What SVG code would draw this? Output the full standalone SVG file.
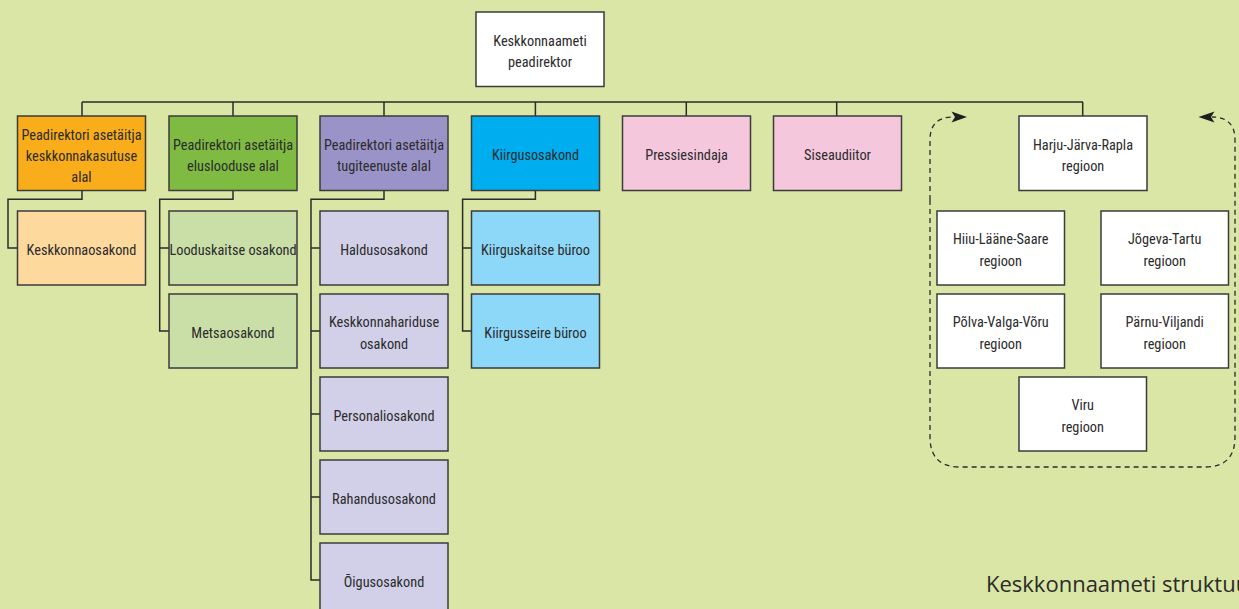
<svg xmlns="http://www.w3.org/2000/svg" width="1239" height="609" viewBox="0 0 1239 609">
<defs>
<style>
.b{stroke:#3b3b3b;stroke-width:1.5}
.t{font-family:"Liberation Sans Narrow","Roboto Condensed","DejaVu Sans Condensed","Liberation Sans",sans-serif;font-stretch:condensed;font-size:14.3px;fill:#2b2b2b;text-anchor:middle}
.c{fill:none;stroke:#2b2b2b;stroke-width:1.5}
.d{fill:none;stroke:#2b2b2b;stroke-width:1.3;stroke-dasharray:5 4}
.ah{fill:#1e1e1e;stroke:none}
.w{fill:#ffffff}.o1{fill:#f9ad1b}.o2{fill:#fed99d}.g1{fill:#7fba42}.g2{fill:#cadfa8}.p1{fill:#9a93c7}.p2{fill:#d2d0e8}.c1{fill:#00aeef}.c2{fill:#8dd8f8}.k{fill:#f4c7dc}
</style>
</defs>
<rect width="1239" height="609" fill="#dae6a5"/>
<g id="connectors">
<path class="c" d="M82,102 H1083 M82,102 V116 M233,102 V116 M384,102 V116 M535.4,102 V116 M686.3,102 V116 M836.7,102 V116 M1082.7,102 V116"/>
<path class="c" d="M82,190.5 V199.3 H8 V248 H17.5"/>
<path class="c" d="M233,190.5 V199.3 H159.7 V331 H169 M159.7,248 H169"/>
<path class="c" d="M384,190.5 V199.3 H311 V580 H320 M311,248 H320 M311,331 H320 M311,414 H320 M311,497 H320"/>
<path class="c" d="M535.4,190.5 V199.3 H462.6 V331 H471.5 M462.6,248 H471.5"/>
<path class="d" d="M930,200 V140 Q930,117 953,117"/>
<polygon class="ah" points="951.5,111.5 967,117 951.5,122.5 955,117"/>
<path class="d" d="M930,200 V437 Q930,467 960,467 H1205 Q1235,467 1235,437 V140 Q1235,117 1212,117"/>
<polygon class="ah" points="1214.5,111.5 1198.5,117 1214.5,122.5 1211,117"/>
</g>
<g id="n-top"><rect class="b w" x="476" y="12" width="128" height="74.5"/><text class="t" x="540" y="45.5">Keskkonnaameti</text><text class="t" x="540" y="67">peadirektor</text></g>
<g id="n-o1"><rect class="b o1" x="17.5" y="116" width="128" height="74.5"/><text class="t" x="81.5" y="139.5">Peadirektori asetäitja</text><text class="t" x="81.5" y="160.8">keskkonnakasutuse</text><text class="t" x="81.5" y="182">alal</text></g>
<g id="n-g1"><rect class="b g1" x="169" y="116" width="128" height="74.5"/><text class="t" x="233" y="150">Peadirektori asetäitja</text><text class="t" x="233" y="171">elusloodusе alal</text></g>
<g id="n-p1"><rect class="b p1" x="320" y="116" width="128" height="74.5"/><text class="t" x="384" y="150">Peadirektori asetäitja</text><text class="t" x="384" y="171">tugiteenuste alal</text></g>
<g id="n-c1"><rect class="b c1" x="471.5" y="116" width="128" height="74.5"/><text class="t" x="535.5" y="160">Kiirgusosakond</text></g>
<g id="n-press"><rect class="b k" x="622.5" y="116" width="128" height="74.5"/><text class="t" x="686.5" y="160">Pressiesindaja</text></g>
<g id="n-sise"><rect class="b k" x="773.5" y="116" width="128" height="74.5"/><text class="t" x="837.5" y="160">Siseaudiitor</text></g>
<g id="n-harju"><rect class="b w" x="1019" y="116" width="128" height="74.5"/><text class="t" x="1083" y="150">Harju-Järva-Rapla</text><text class="t" x="1083" y="171">regioon</text></g>
<g id="n-kesk"><rect class="b o2" x="17.5" y="211" width="128" height="74"/><text class="t" x="81.5" y="255">Keskkonnaosakond</text></g>
<g id="n-lood"><rect class="b g2" x="169" y="211" width="128" height="74"/><text class="t" x="233" y="255">Looduskaitse osakond</text></g>
<g id="n-mets"><rect class="b g2" x="169" y="294" width="128" height="74"/><text class="t" x="233" y="338">Metsaosakond</text></g>
<g id="n-hald"><rect class="b p2" x="320" y="211" width="128" height="74"/><text class="t" x="384" y="255">Haldusosakond</text></g>
<g id="n-kh"><rect class="b p2" x="320" y="294" width="128" height="74"/><text class="t" x="384" y="327">Keskkonnahariduse</text><text class="t" x="384" y="348.5">osakond</text></g>
<g id="n-pers"><rect class="b p2" x="320" y="377" width="128" height="74"/><text class="t" x="384" y="421">Personaliosakond</text></g>
<g id="n-rah"><rect class="b p2" x="320" y="460" width="128" height="74"/><text class="t" x="384" y="504">Rahandusosakond</text></g>
<g id="n-oig"><rect class="b p2" x="320" y="543" width="128" height="74"/><text class="t" x="384" y="587">Õigusosakond</text></g>
<g id="n-kk"><rect class="b c2" x="471.5" y="211" width="128" height="74"/><text class="t" x="535.5" y="255">Kiirguskaitse büroo</text></g>
<g id="n-ks"><rect class="b c2" x="471.5" y="294" width="128" height="74"/><text class="t" x="535.5" y="338">Kiirgusseire büroo</text></g>
<g id="n-hiiu"><rect class="b w" x="937" y="211" width="127.5" height="74"/><text class="t" x="1000.7" y="244">Hiiu-Lääne-Saare</text><text class="t" x="1000.7" y="265.5">regioon</text></g>
<g id="n-jog"><rect class="b w" x="1101" y="211" width="127.5" height="74"/><text class="t" x="1164.7" y="244">Jõgeva-Tartu</text><text class="t" x="1164.7" y="265.5">regioon</text></g>
<g id="n-polva"><rect class="b w" x="937" y="294" width="127.5" height="74"/><text class="t" x="1000.7" y="327">Põlva-Valga-Võru</text><text class="t" x="1000.7" y="348.5">regioon</text></g>
<g id="n-parnu"><rect class="b w" x="1101" y="294" width="127.5" height="74"/><text class="t" x="1164.7" y="327">Pärnu-Viljandi</text><text class="t" x="1164.7" y="348.5">regioon</text></g>
<g id="n-viru"><rect class="b w" x="1019" y="377" width="127.5" height="74"/><text class="t" x="1082.7" y="410">Viru</text><text class="t" x="1082.7" y="431.5">regioon</text></g>
<text x="986" y="592" style="font-family:'Open Sans','Noto Sans',sans-serif;font-size:22px;fill:#2b2b2b">Keskkonnaameti struktuur</text>
</svg>
